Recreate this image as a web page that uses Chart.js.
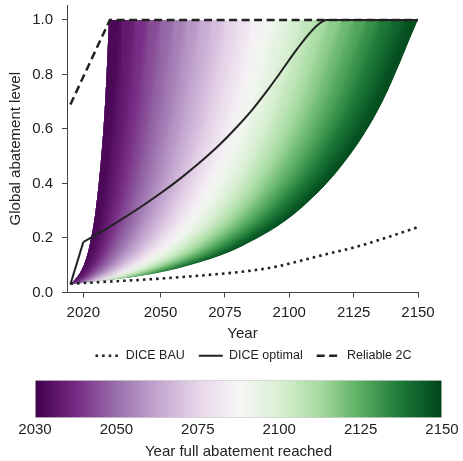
<!DOCTYPE html>
<html>
<head>
<meta charset="utf-8">
<script src="https://cdn.jsdelivr.net/npm/chart.js@4.4.1/dist/chart.umd.min.js"></script>
<style>
  html, body { margin: 0; padding: 0; background: #fff; }
  #wrap { position: relative; width: 463px; height: 461px; }
  #main { position: absolute; left: 0; top: 0; }
  #bar { position: absolute; left: 0; top: 379px; }
</style>
</head>
<body>
<div id="wrap">
  <canvas id="main" width="463" height="379"></canvas>
  <canvas id="bar" width="463" height="82"></canvas>
</div>
<script>
// Abatement pathways (PRGn fan), DICE lines, and the colour bar underneath.

// ---- data ----------------------------------------------------------------

const LEVELS = [0.03, 0.07, 0.11, 0.17, 0.3, 0.5, 0.7, 1.0];

// year each pathway passes LEVELS[k]; last entry = year full abatement reached
const PATHWAY_YEARS = [
  [2015, 2018.6, 2020.6, 2022.4, 2024.8, 2027.0, 2028.5, 2030],
  [2015, 2019.8, 2022.4, 2024.9, 2028.1, 2031.0, 2033.0, 2035],
  [2015, 2021.0, 2024.3, 2027.4, 2031.4, 2035.1, 2037.5, 2040],
  [2015, 2022.2, 2026.1, 2029.8, 2034.7, 2039.1, 2042.0, 2045],
  [2015, 2023.5, 2028.0, 2032.3, 2038.0, 2043.1, 2046.4, 2050],
  [2015, 2024.7, 2029.8, 2034.8, 2041.3, 2047.1, 2050.9, 2055],
  [2015, 2025.9, 2031.7, 2037.3, 2044.5, 2051.1, 2055.4, 2060],
  [2015, 2027.1, 2033.5, 2039.7, 2047.8, 2055.1, 2059.9, 2065],
  [2015, 2028.3, 2035.4, 2042.2, 2051.1, 2059.1, 2064.4, 2070],
  [2015, 2029.5, 2037.2, 2044.7, 2054.4, 2063.1, 2068.9, 2075],
  [2015, 2030.7, 2039.1, 2047.2, 2057.7, 2067.1, 2073.4, 2080],
  [2015, 2031.9, 2040.9, 2049.6, 2061.0, 2071.2, 2077.9, 2085],
  [2015, 2033.1, 2042.8, 2052.1, 2064.2, 2075.2, 2082.4, 2090],
  [2015, 2034.3, 2044.6, 2054.6, 2067.5, 2079.2, 2086.9, 2095],
  [2015, 2035.5, 2046.5, 2057.0, 2070.8, 2083.2, 2091.4, 2100],
  [2015, 2036.7, 2048.3, 2059.5, 2074.1, 2087.2, 2095.8, 2105],
  [2015, 2038.0, 2050.2, 2062.0, 2077.4, 2091.2, 2100.3, 2110],
  [2015, 2039.2, 2052.1, 2064.5, 2080.7, 2095.2, 2104.8, 2115],
  [2015, 2040.4, 2053.9, 2066.9, 2083.9, 2099.2, 2109.3, 2120],
  [2015, 2041.6, 2055.8, 2069.4, 2087.2, 2103.3, 2113.8, 2125],
  [2015, 2042.8, 2057.6, 2071.9, 2090.5, 2107.3, 2118.3, 2130],
  [2015, 2044.0, 2059.5, 2074.4, 2093.8, 2111.3, 2122.8, 2135],
  [2015, 2045.2, 2061.3, 2076.8, 2097.1, 2115.3, 2127.3, 2140],
  [2015, 2046.4, 2063.2, 2079.3, 2100.4, 2119.3, 2131.8, 2145],
  [2015, 2047.6, 2065.0, 2081.8, 2103.6, 2123.3, 2136.3, 2150],
];

const BAU_YEARS = [2015, 2030, 2045, 2060, 2075, 2085, 2095, 2105, 2115, 2125, 2135, 2150];
const BAU_LEVEL = [0.032, 0.04, 0.048, 0.058, 0.07, 0.08, 0.095, 0.118, 0.142, 0.165, 0.193, 0.24];

const OPT_YEARS = [2015, 2020, 2030, 2042, 2050, 2057.5, 2065, 2073, 2080, 2086, 2092, 2096, 2103, 2109.7, 2114.5, 2150];
const OPT_LEVEL = [0.03, 0.185, 0.24, 0.312, 0.364, 0.417, 0.475, 0.543, 0.611, 0.675, 0.748, 0.80, 0.893, 0.970, 1.0, 1.0];

const R2C_YEARS = [2015, 2030.3, 2150];
const R2C_LEVEL = [0.69, 1.0, 1.0];

const X_TICKS = [2020, 2050, 2075, 2100, 2125, 2150];
const Y_TICKS = [0, 0.2, 0.4, 0.6, 0.8, 1.0];
const BAR_TICKS = [2030, 2050, 2075, 2100, 2125, 2150];
const FIRST_FULL = 2030;
const LAST_FULL = 2150;

// ---- style ---------------------------------------------------------------

const FONT = "'Liberation Sans', Arial, Helvetica, sans-serif";
const INK = "#222";
const AXIS = "#444";
const PRGN = ["#40004b", "#762a83", "#9970ab", "#c2a5cf", "#e7d4e8", "#f7f7f7",
              "#d9f0d3", "#a6dba0", "#5aae61", "#1b7837", "#00441b"];

Chart.defaults.font.family = FONT;
Chart.defaults.color = INK;

function rgb(hex) {
  const n = parseInt(hex.slice(1), 16);
  return [(n >> 16) & 255, (n >> 8) & 255, n & 255];
}

function prgn(t) {
  t = Math.min(1, Math.max(0, t)) * (PRGN.length - 1);
  const i = Math.min(Math.floor(t), PRGN.length - 2);
  const f = t - i;
  const a = rgb(PRGN[i]), b = rgb(PRGN[i + 1]);
  const c = a.map((v, k) => Math.round(v + (b[k] - v) * f));
  return `rgb(${c[0]},${c[1]},${c[2]})`;
}

function series(xs, ys) {
  return xs.map((x, i) => ({ x, y: ys[i] }));
}

// ---- main chart ----------------------------------------------------------

const FIRST_PATH = 0;
const LAST_PATH = PATHWAY_YEARS.length - 1;

// Each pathway fills from its curve up past 1.0; drawn right-to-left so the
// band between two neighbouring pathways keeps the right one's colour.
// The 2030 pathway only gives the left outline of the fan.
const pathwaySets = PATHWAY_YEARS.map((row, k) => {
  const full = row[row.length - 1];
  return {
    data: series(row, LEVELS),
    fill: k === FIRST_PATH ? false : { value: 1.1 },
    backgroundColor: prgn((full - 2.5 - FIRST_FULL) / (LAST_FULL - FIRST_FULL)),
    borderWidth: 0,
    pointRadius: 0,
    cubicInterpolationMode: "monotone",
    order: 100 + k,
  };
});

const lineStyle = { borderColor: INK, pointRadius: 0, fill: false };

const lineSets = [
  {
    ...lineStyle,
    label: "DICE BAU",
    data: series(BAU_YEARS, BAU_LEVEL),
    borderWidth: 2.6,
    borderDash: [2.6, 4],
    cubicInterpolationMode: "monotone",
    order: 3,
  },
  {
    // the sharp start of the optimal path, 2015 -> 2020
    ...lineStyle,
    data: series(OPT_YEARS.slice(0, 2), OPT_LEVEL.slice(0, 2)),
    borderWidth: 2,
    order: 2,
  },
  {
    ...lineStyle,
    label: "DICE optimal",
    data: series(OPT_YEARS.slice(1), OPT_LEVEL.slice(1)),
    borderWidth: 2,
    cubicInterpolationMode: "monotone",
    order: 1,
  },
  {
    ...lineStyle,
    label: "Reliable 2C",
    data: series(R2C_YEARS, R2C_LEVEL),
    borderWidth: 2.5,
    borderDash: [8, 4.5],
    order: 0,
  },
];

// Clip the pathway fills to the fan outline and soften the 5-year bands
// with a blur, so it reads as a continuous gradient like the original.
const fanBlur = {
  id: "fanBlur",
  beforeDatasetsDraw(chart) {
    const { ctx, chartArea: a, scales } = chart;
    const left = chart.getDatasetMeta(FIRST_PATH).dataset;
    const right = chart.getDatasetMeta(LAST_PATH).dataset;
    left.updateControlPoints(a, "x");
    right.updateControlPoints(a, "x");
    const yTop = scales.y.getPixelForValue(1);
    const tipY = left.points[0].y;
    const L = a.left - 20, R = a.right + 20, B = a.bottom + 20;
    ctx.save();
    ctx.beginPath();
    left.path(ctx);
    ctx.lineTo(R, yTop);
    ctx.lineTo(R, B);
    ctx.lineTo(L, B);
    ctx.lineTo(L, tipY);
    ctx.closePath();
    ctx.clip();
    ctx.beginPath();
    right.path(ctx);
    ctx.lineTo(L, yTop);
    ctx.lineTo(L, tipY);
    ctx.closePath();
    ctx.clip();
    this._open = true;
  },
  afterDatasetDraw(chart, args) {
    if (this._open && args.index === LAST_PATH) chart.ctx.filter = "blur(3px)";
  },
  beforeDatasetDraw(chart, args) {
    if (this._open && args.index >= PATHWAY_YEARS.length) {
      chart.ctx.restore();
      this._open = false;
    }
  },
  afterDatasetsDraw(chart) {
    if (this._open) { chart.ctx.restore(); this._open = false; }
  },
};

// legend sits centred under the plot in the original, a bit right of the axis centre
const nudgeLegend = {
  id: "nudgeLegend",
  afterLayout(chart) {
    const lg = chart.legend;
    if (!lg) return;
    lg.left += 11; lg.right += 11;
    lg.top -= 7; lg.bottom -= 7;
  },
};

const tickFont = { family: FONT, size: 15 };

new Chart(document.getElementById("main"), {
  type: "line",
  data: { datasets: pathwaySets.concat(lineSets) },
  plugins: [fanBlur, nudgeLegend],
  options: {
    responsive: false,
    animation: false,
    events: [],
    layout: { padding: { top: 5, right: 45, left: 0, bottom: 0 } },
    plugins: {
      tooltip: { enabled: false },
      legend: {
        position: "bottom",
        fullSize: false,
        labels: {
          usePointStyle: true,
          pointStyleWidth: 24,
          padding: 14,
          color: INK,
          font: { family: FONT, size: 12.5 },
          generateLabels: (chart) => chart.data.datasets
            .map((ds, i) => ({ ds, i }))
            .filter(({ ds }) => ds.label)
            .map(({ ds, i }) => ({
              text: ds.label,
              datasetIndex: i,
              pointStyle: "line",
              strokeStyle: ds.borderColor,
              fillStyle: "rgba(0,0,0,0)",
              lineWidth: ds.borderWidth,
              lineDash: ds.borderDash || [],
              fontColor: INK,
            })),
        },
      },
    },
    scales: {
      x: {
        type: "linear",
        min: 2013.67,
        max: 2150,
        afterBuildTicks: (s) => { s.ticks = X_TICKS.map((value) => ({ value })); },
        afterFit: (s) => { s.height = 50; },
        ticks: { font: tickFont, color: INK, padding: 6, maxRotation: 0, autoSkip: false, callback: (v) => String(v) },
        grid: { drawOnChartArea: false, tickLength: 5, tickColor: AXIS },
        border: { color: AXIS, width: 1 },
        title: { display: true, text: "Year", font: tickFont, color: INK, padding: 0 },
      },
      y: {
        type: "linear",
        min: 0,
        max: 1.055,
        afterBuildTicks: (s) => { s.ticks = Y_TICKS.map((value) => ({ value })); },
        // fixed width; drop the label padding so the plot can reach the top
        afterFit: (s) => { s.width = 67; s.paddingTop = 0; s.paddingBottom = 0; },
        ticks: { font: tickFont, color: INK, padding: 9, callback: (v) => v.toFixed(1) },
        grid: { drawOnChartArea: false, tickLength: 5, tickColor: AXIS },
        border: { color: AXIS, width: 1 },
        title: { display: true, text: "Global abatement level", font: tickFont, color: INK, padding: { top: 7, bottom: 0 } },
      },
    },
  },
});

// ---- colour bar ----------------------------------------------------------

function barGradient(ctx) {
  const area = ctx.chart.chartArea;
  if (!area) return PRGN[5];
  const g = ctx.chart.ctx.createLinearGradient(area.left, 0, area.right, 0);
  PRGN.forEach((c, i) => g.addColorStop(i / (PRGN.length - 1), c));
  return g;
}

new Chart(document.getElementById("bar"), {
  type: "bar",
  data: {
    labels: [""],
    datasets: [{
      data: [BAR_TICKS.length - 1],
      backgroundColor: barGradient,
      borderColor: "#d0d0d0",
      borderWidth: 1,
      borderSkipped: false,
      barPercentage: 1,
      categoryPercentage: 1,
    }],
  },
  options: {
    indexAxis: "y",
    responsive: false,
    animation: false,
    events: [],
    layout: { padding: { left: 35, right: 21, top: 1, bottom: 0 } },
    plugins: { legend: { display: false }, tooltip: { enabled: false } },
    scales: {
      x: {
        type: "linear",
        min: 0,
        max: BAR_TICKS.length - 1,
        afterBuildTicks: (s) => { s.ticks = BAR_TICKS.map((_, i) => ({ value: i })); },
        afterFit: (s) => { s.height = 43; },
        ticks: { font: tickFont, color: INK, padding: 3, maxRotation: 0, autoSkip: false, callback: (v, i) => String(BAR_TICKS[i]) },
        grid: { display: false, drawTicks: false },
        border: { display: false },
        title: { display: true, text: "Year full abatement reached", font: tickFont, color: INK, padding: 0 },
      },
      y: { display: false },
    },
  },
});
</script>
</body>
</html>
